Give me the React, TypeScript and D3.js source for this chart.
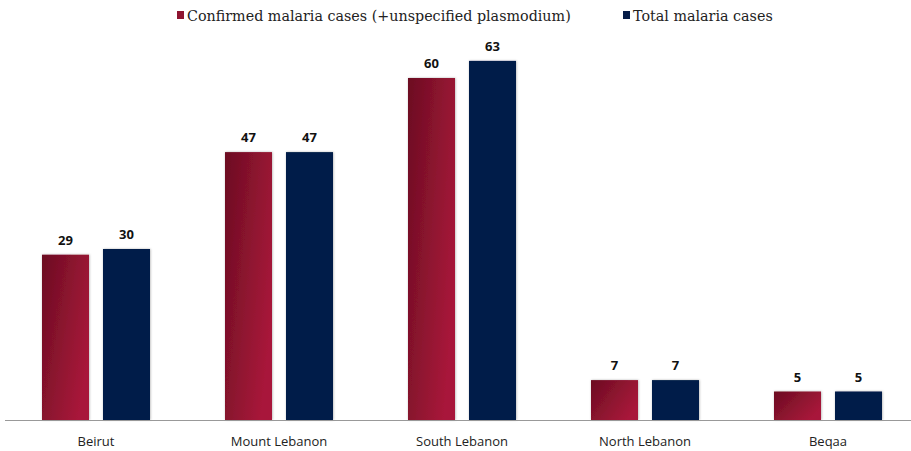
import React from "react";
import * as d3 from "d3";

const categories = ["Beirut", "Mount Lebanon", "South Lebanon", "North Lebanon", "Beqaa"];
const confirmed = [29, 47, 60, 7, 5];
const total = [30, 47, 63, 7, 5];
const seriesNames = ["Confirmed malaria cases (+unspecified plasmodium)", "Total malaria cases"];

const W = 911, H = 451;
const baseY = 420;

export default function App() {
  const x0 = d3.scaleBand<string>().domain(categories).range([4.5, 919.5]).padding(0);
  const x1 = d3.scaleBand<string>().domain(["c", "t"]).range([0, 183]).paddingInner(14 / 61).paddingOuter(37.5 / 61);
  const y = d3.scaleLinear().domain([0, 70]).range([baseY, 21]);
  return (
    <svg width={W} height={H} style={{ position: "absolute", left: 0, top: 0 }}>
      <defs>
        <linearGradient id="redGrad" x1="0" y1="0" x2="1" y2="0.6">
          <stop offset="0" stopColor="#6c0d22" />
          <stop offset="1" stopColor="#a8183a" />
        </linearGradient>
        <filter id="sh" x="-20%" y="-10%" width="140%" height="120%">
          <feDropShadow dx="0.5" dy="0" stdDeviation="1.2" floodColor="#000" floodOpacity="0.3" />
        </filter>
      </defs>
      <rect width={W} height={H} fill="#fff" />
      <rect x={177} y={11} width={7} height={8} fill="#8e1430" />
      <text x={187} y={21} fontFamily="'DejaVu Serif', 'Liberation Serif', serif" fontSize={14.3} fill="#222">{seriesNames[0]}</text>
      <rect x={623} y={11} width={7} height={8} fill="#061d48" />
      <text x={633} y={21} fontFamily="'DejaVu Serif', 'Liberation Serif', serif" fontSize={14.3} fill="#222">{seriesNames[1]}</text>
      {categories.map((c, i) => {
        const bx = x0(c)!;
        const vals = [
          { k: "c", v: confirmed[i], fill: "url(#redGrad)" },
          { k: "t", v: total[i], fill: "#061d48" },
        ];
        return (
          <g key={c}>
            {vals.map((d) => {
              const xx = bx + x1(d.k)!;
              const bw = x1.bandwidth();
              return (
                <g key={d.k}>
                  <rect x={xx} y={y(d.v)} width={bw} height={baseY - y(d.v)} fill={d.fill} filter="url(#sh)" />
                  <text x={xx + bw / 2} y={y(d.v) - 10} textAnchor="middle" fontFamily="'Open Sans', 'Liberation Sans', sans-serif" fontWeight="bold" fontSize={13} fill="#111">{d.v}</text>
                </g>
              );
            })}
            <text x={bx + x0.bandwidth() / 2} y={446} textAnchor="middle" fontFamily="'Open Sans', 'Liberation Sans', sans-serif" fontSize={13} fill="#222">{c}</text>
          </g>
        );
      })}
      <line x1={5} x2={911} y1={baseY + 0.5} y2={baseY + 0.5} stroke="#999" strokeWidth={1} />
    </svg>
  );
}
